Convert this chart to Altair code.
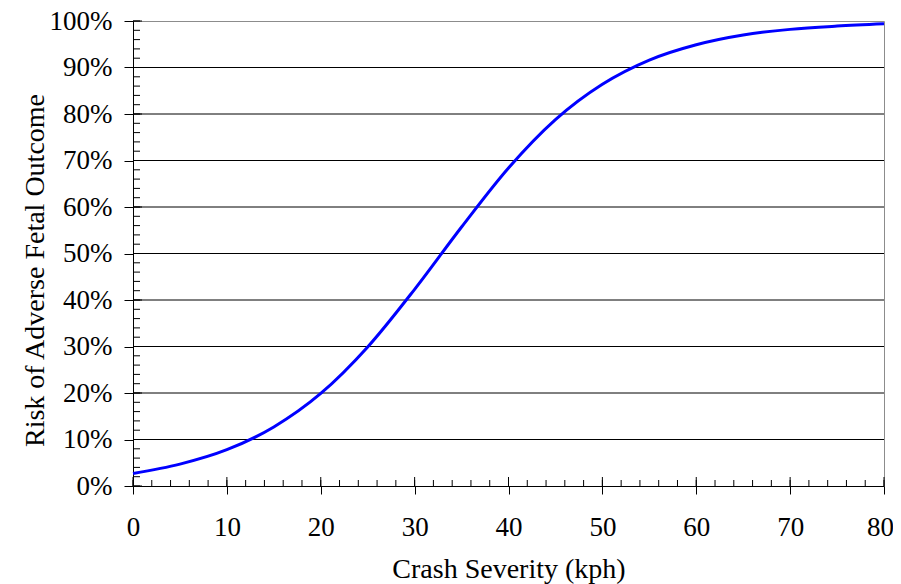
import altair as alt
import pandas as pd

# Curve values (crash severity in kph -> risk)
kph = [0, 5, 10, 15, 20, 25, 30, 35, 40, 45, 50, 55, 60, 65, 70, 75, 80]
risk = [0.027, 0.047, 0.078, 0.127, 0.199, 0.299, 0.423, 0.557, 0.684, 0.788,
        0.864, 0.916, 0.949, 0.970, 0.982, 0.989, 0.994]

x_major = [0, 10, 20, 30, 40, 50, 60, 70, 80]
x_minor = list(range(0, 81, 2))
y_major = [0.0, 0.1, 0.2, 0.3, 0.4, 0.5, 0.6, 0.7, 0.8, 0.9, 1.0]
y_grid = [0.1, 0.2, 0.3, 0.4, 0.5, 0.6, 0.7, 0.8, 0.9]
y_minor = [i / 100 for i in range(0, 101, 2)]

W, H = 751, 465
FONT = "Liberation Serif"

common = dict(grid=False, labelFlush=False, domainColor="black", domainWidth=1,
              tickColor="black", tickWidth=1, labelFont=FONT, labelFontSize=27,
              labelColor="black", titleFont=FONT, titleFontSize=28,
              titleFontWeight="normal", titleColor="black", titleBaseline="alphabetic")

xscale = alt.Scale(domain=[0, 80], nice=False, zero=False)
yscale = alt.Scale(domain=[0, 1], nice=False)
xaxis = alt.Axis(values=x_major, format="d", tickSize=8, labelPadding=20, titleY=91,
                 labelOffset={"condition": {"test": "datum.value >= 80", "value": -4}, "value": 0},
                 **common)
yaxis = alt.Axis(values=y_major, format=".0%", tickSize=9, labelPadding=12,
                 titleX=-90, titleY=249, **common)


def X():
    return alt.X("kph:Q", scale=xscale, title="Crash Severity (kph)", axis=xaxis)


def Y():
    return alt.Y("risk:Q", scale=yscale, title="Risk of Adverse Fetal Outcome", axis=yaxis)


line = alt.Chart(pd.DataFrame({"kph": kph, "risk": risk})).mark_line(
    color="#0000FF", strokeWidth=3, interpolate="monotone").encode(x=X(), y=Y())

grid = alt.Chart(pd.DataFrame({"risk": y_grid})).mark_rule(color="black", strokeWidth=1).encode(y=Y())

xt_minor = alt.Chart(pd.DataFrame({"kph": x_minor})).mark_rule(color="black", strokeWidth=1).encode(
    x=X(), y=alt.value(H), y2=alt.value(H - 6))
xt_major = alt.Chart(pd.DataFrame({"kph": x_major})).mark_rule(color="black", strokeWidth=1).encode(
    x=X(), y=alt.value(H), y2=alt.value(H - 9))
yt_minor = alt.Chart(pd.DataFrame({"risk": y_minor})).mark_rule(color="black", strokeWidth=1).encode(
    y=Y(), x=alt.value(0), x2=alt.value(7))
yt_major = alt.Chart(pd.DataFrame({"risk": y_major})).mark_rule(color="black", strokeWidth=1).encode(
    y=Y(), x=alt.value(0), x2=alt.value(9))

chart = alt.layer(grid, xt_minor, xt_major, yt_minor, yt_major, line).properties(
    width=W, height=H,
    background="white",
    autosize=alt.AutoSizeParams(type="none"),
    padding={"left": 125, "top": 13, "right": 9, "bottom": 98},
).configure_view(
    stroke="#8c8c8c", strokeWidth=1
)

chart.save("out.html", embed_options={"renderer": "svg", "actions": False})
